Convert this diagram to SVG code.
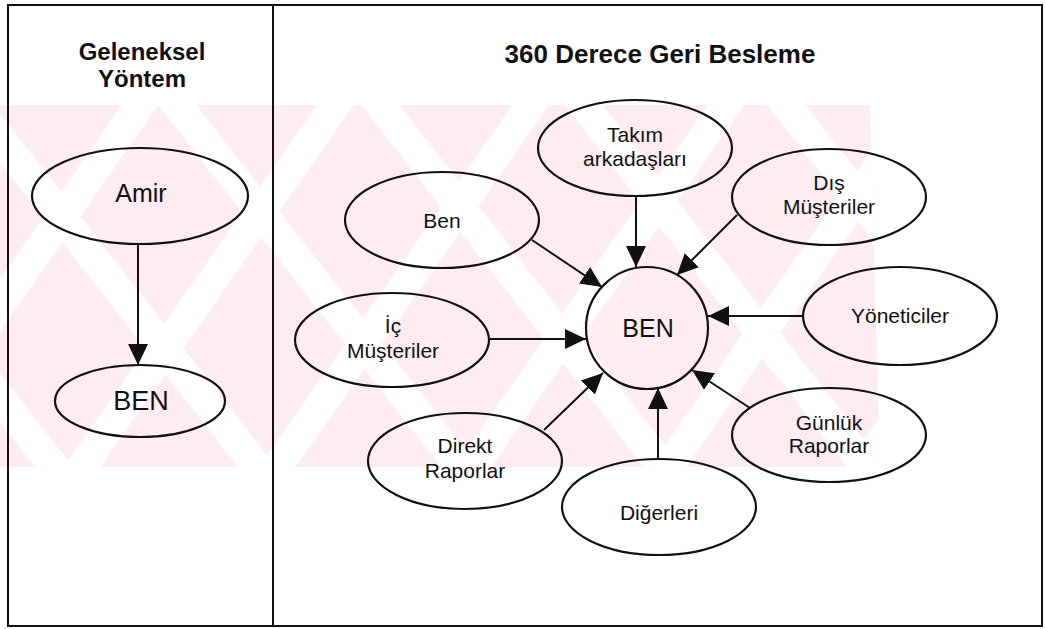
<svg xmlns="http://www.w3.org/2000/svg" width="1045" height="629" viewBox="0 0 1045 629">
  <style>
    .node ellipse { fill: none; stroke: #111; stroke-width: 2.2; }
    .lbl { font-family: "Liberation Sans", Arial, sans-serif; font-size: 21px; fill: #111; text-anchor: middle; }
    .big { font-size: 25px; }
    .title { font-family: "Liberation Sans", Arial, sans-serif; font-size: 24px; font-weight: bold; fill: #111; text-anchor: middle; }
    .conn line { stroke: #111; stroke-width: 2; marker-end: url(#arrow); }
    .frame { fill: none; stroke: #111; stroke-width: 2; }
  </style>
  <defs>
    <marker id="arrow" markerUnits="userSpaceOnUse" markerWidth="22" markerHeight="22" viewBox="0 0 22 22" refX="21" refY="11" orient="auto">
      <path d="M0,1 L21,11 L0,21 Z" fill="#111"/>
    </marker>
    <pattern id="stripeA" patternUnits="userSpaceOnUse" width="160" height="20" patternTransform="rotate(35)">
      <rect x="0" y="0" width="30" height="20" fill="#fff"/>
    </pattern>
    <pattern id="stripeB" patternUnits="userSpaceOnUse" width="160" height="20" patternTransform="rotate(-38) translate(60,0)">
      <rect x="0" y="0" width="30" height="20" fill="#fff"/>
    </pattern>
    <clipPath id="band">
      <polygon points="0,105 870,105 880,467 0,467"/>
    </clipPath>
  </defs>

  <rect width="1045" height="629" fill="#fff"/>

  <g id="watermark" clip-path="url(#band)">
    <rect x="0" y="105" width="880" height="362" fill="#fdedf0"/>
    <rect x="0" y="105" width="880" height="362" fill="url(#stripeA)"/>
    <rect x="0" y="105" width="880" height="362" fill="url(#stripeB)"/>
  </g>

  <rect class="frame" x="8" y="5" width="1034" height="621"/>
  <line x1="273" y1="5" x2="273" y2="626" stroke="#111" stroke-width="2"/>

  <g id="titles">
    <text class="title" x="142" y="60">Geleneksel</text>
    <text class="title" x="142" y="87">Yöntem</text>
    <text class="title" x="660" y="63" style="font-size:26px">360 Derece Geri Besleme</text>
  </g>

  <g id="connectors" class="conn">
    <line x1="138" y1="245" x2="138" y2="365"/>
    <line x1="636" y1="196" x2="636" y2="267"/>
    <line x1="532" y1="240" x2="602" y2="287"/>
    <line x1="737" y1="215" x2="677" y2="275"/>
    <line x1="490" y1="339" x2="586" y2="339"/>
    <line x1="803" y1="316" x2="708" y2="316"/>
    <line x1="544" y1="430" x2="603" y2="373"/>
    <line x1="658" y1="459" x2="658" y2="388"/>
    <line x1="750" y1="408" x2="692" y2="370"/>
  </g>

  <g id="node-amir" class="node">
    <ellipse cx="140" cy="196" rx="108" ry="48"/>
    <text class="lbl big" x="141" y="202">Amir</text>
  </g>
  <g id="node-ben-left" class="node">
    <ellipse cx="140" cy="401" rx="85" ry="36"/>
    <text class="lbl" x="141" y="410" style="font-size:27px">BEN</text>
  </g>

  <g id="node-ben-center" class="node">
    <ellipse cx="647" cy="328" rx="61" ry="61"/>
    <text class="lbl big" x="648" y="337">BEN</text>
  </g>
  <g id="node-takim" class="node">
    <ellipse cx="635" cy="148" rx="97" ry="48"/>
    <text class="lbl" x="635" y="142">Takım</text>
    <text class="lbl" x="635" y="166">arkadaşları</text>
  </g>
  <g id="node-ben" class="node">
    <ellipse cx="442" cy="220" rx="97" ry="48"/>
    <text class="lbl" x="442" y="228">Ben</text>
  </g>
  <g id="node-dis" class="node">
    <ellipse cx="829" cy="197" rx="97" ry="48"/>
    <text class="lbl" x="829" y="190">Dış</text>
    <text class="lbl" x="829" y="214">Müşteriler</text>
  </g>
  <g id="node-yoneticiler" class="node">
    <ellipse cx="900" cy="316" rx="97" ry="49"/>
    <text class="lbl" x="900" y="323">Yöneticiler</text>
  </g>
  <g id="node-ic" class="node">
    <ellipse cx="392" cy="340" rx="97" ry="47"/>
    <text class="lbl" x="393" y="333">İç</text>
    <text class="lbl" x="393" y="358">Müşteriler</text>
  </g>
  <g id="node-direkt" class="node">
    <ellipse cx="465" cy="461" rx="97" ry="48"/>
    <text class="lbl" x="465" y="453">Direkt</text>
    <text class="lbl" x="465" y="478">Raporlar</text>
  </g>
  <g id="node-digerleri" class="node">
    <ellipse cx="659" cy="507" rx="97" ry="48"/>
    <text class="lbl" x="659" y="520">Diğerleri</text>
  </g>
  <g id="node-gunluk" class="node">
    <ellipse cx="829" cy="435" rx="97" ry="47"/>
    <text class="lbl" x="829" y="430">Günlük</text>
    <text class="lbl" x="829" y="453">Raporlar</text>
  </g>
</svg>
